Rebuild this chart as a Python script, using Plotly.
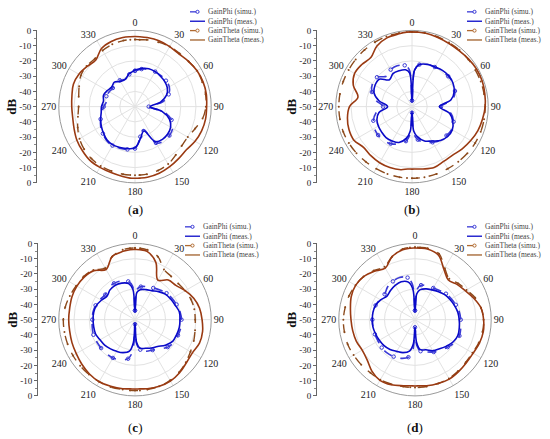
import plotly.graph_objects as go

W, H = 550, 439

# angle grid (deg), shared by every curve; 4 rows of 10 values below
ANGLES = [0, 4, 10, 20, 30, 40, 50, 60, 70, 80,
          90, 100, 110, 120, 130, 140, 150, 160, 170, 176,
          180, 184, 190, 200, 210, 220, 230, 240, 250, 260,
          270, 280, 290, 300, 310, 320, 330, 340, 350, 356]

ANGLE_TICKS = [0, 30, 60, 90, 120, 150, 180, 210, 240, 270, 300, 330]
DB_TICKS = [-50, -40, -30, -20, -10, 0, 10, 20, 30, 40, 50]
DB_LABELS = ["0", "-10", "-20", "-30", "-40", "-50", "-40", "-30", "-20", "-10", "0"]
SERIES_NAMES = ["GainPhi (simu.)", "GainPhi (meas.)", "GainTheta (simu.)", "GainTheta (meas.)"]
PANEL_LETTERS = ["a", "b", "c", "d"]

# ---- panel (a)
a_phi_simu = [-26.5, -26, -25, -24, -23.5, -23.5, -23.5, -24, -26.5, -31.5,
              -41, -31, -24.5, -21.5, -20.5, -20.5, -22.5, -34, -30, -25,
              -22.5, -22, -21.5, -21, -20.5, -21, -22.5, -24, -26, -28,
              -29.5, -31, -30, -30.5, -31, -29.5, -30, -31, -28.5, -27.5]
a_phi_meas = [-26, -25.5, -24.5, -23.5, -23.5, -24, -24.5, -25.5, -28, -33,
              -40, -32, -26, -23, -22, -22, -23.5, -33, -29, -25,
              -23, -22.5, -22, -21.5, -21, -21.5, -23, -24.5, -26, -27.5,
              -28, -29, -28, -29, -30, -29, -31, -31, -28, -27]
a_theta_simu = [-6, -6, -5.5, -5, -4.5, -4.5, -4, -3, -3, -3,
                -3.5, -5, -8, -10, -10, -8.5, -6.5, -5.5, -5, -5,
                -5, -5, -5, -5, -5, -5.5, -6.5, -8, -10, -12,
                -13, -12.5, -11, -9, -8.5, -9, -7.5, -6.5, -6, -6]
a_theta_meas = [-4, -4, -4, -4, -4.5, -5, -4, -3, -2.5, -2.5,
                -3, -3, -3.5, -4.5, -6, -5.5, -4.5, -3.5, -3, -3,
                -3, -3, -3.5, -4, -4, -4, -5, -6, -7.5, -8.5,
                -8.5, -8, -7, -7.5, -9, -10, -6, -4.5, -4, -4]

# ---- panel (b)
b_phi_simu = [-46, -26, -22, -20.5, -20, -19.5, -19, -19, -20, -23,
              -31, -24, -21, -20, -20.5, -21, -23, -25, -28, -32,
              -46, -32, -27, -24, -22, -21, -21, -21.5, -23, -26,
              -31, -26, -22, -20, -20, -24, -22, -21.5, -22.5, -26]
b_phi_meas = [-47, -26, -22, -20.5, -20, -19, -18.5, -19, -20.5, -24,
              -32, -25, -21.5, -19.5, -19.5, -21, -24, -26, -30, -34,
              -47, -34, -29, -25, -24, -23.5, -24, -24.5, -25.5, -28,
              -34, -28, -23.5, -22, -22, -27, -25, -25, -25.5, -28]
b_theta_simu = [-1, -1, -1, -1.2, -1.5, -1.5, -1.8, -2, -2, -2,
                -2, -2, -2, -2.2, -2.5, -2.8, -3, -3, -3, -3,
                -3, -3, -3, -3, -3, -2.8, -2.5, -2.2, -2, -2,
                -2, -2, -2, -2, -1.8, -1.5, -1.2, -1, -1, -1]
b_theta_meas = [-1, -1, -1, -1.5, -2, -2, -1.5, -1, -1, -1.5,
                -2, -3, -4, -5.5, -7, -8.5, -8.5, -7.5, -8.5, -9,
                -9, -9, -8, -7.5, -7.5, -8, -8.5, -6, -6, -7,
                -9, -14, -9, -6.5, -7, -8, -4, -2, -1.5, -1]

# ---- panel (c)
c_phi_simu = [-44, -30, -28, -27, -26, -24.5, -23, -22, -21, -20,
              -19.5, -19.5, -20, -20.5, -22, -25, -27, -28, -30, -34,
              -47, -30, -24, -22, -21, -21, -21, -21, -21, -21.5,
              -22, -22, -22.5, -23.5, -24.5, -23, -22.5, -23, -24.5, -28]
c_phi_meas = [-45, -32, -30, -29, -28, -26, -24, -23, -22, -20.5,
              -20.5, -20.5, -21, -21.5, -24, -27, -28.5, -30, -31, -35,
              -48, -35, -29, -27, -26, -25, -24, -23.5, -22.5, -22.5,
              -22.5, -22.5, -23, -24.5, -26, -24.5, -24, -24.5, -26, -30]
c_theta_simu = [-3, -3, -3.5, -6, -12, -13, -13, -12, -11, -10.5,
                -10.5, -10, -9, -8, -6.5, -5, -4, -3.5, -3.5, -3.5,
                -3.5, -3.5, -3.5, -3, -3, -3, -3, -3, -3, -3,
                -3, -3.5, -4.5, -5.5, -6, -7.5, -11, -6, -3.5, -3]
c_theta_meas = [-4, -4, -4.5, -10, -20, -16, -15, -12, -9, -7,
                -6, -5, -5, -6.5, -6, -4.5, -3.5, -3.5, -4, -4.5,
                -4.5, -4.5, -4, -3.5, -3, -3.5, -4.5, -5.5, -6, -6.5,
                -6.5, -6.5, -6, -6, -6.5, -8, -12, -6, -4.5, -4]

# ---- panel (d)
d_phi_simu = [-44, -30, -27, -26.5, -26, -25, -23.5, -22.5, -21.5, -20.5,
              -20, -19.5, -19, -20, -22, -24, -25.5, -27.5, -29, -33,
              -45, -30, -25, -23, -22, -21.5, -21.5, -22, -22, -22,
              -22, -22, -22.5, -23.5, -24, -22, -21, -20.5, -22, -27]
d_phi_meas = [-45, -33, -30, -28.5, -27.5, -26, -24.5, -23.5, -22.5, -21.5,
              -21, -20.5, -20, -21, -23, -25, -26.5, -29, -30, -35,
              -45, -34, -29, -27, -26, -24.5, -23.5, -23, -22.5, -22,
              -22, -22, -22.5, -24, -26, -25, -24, -23.5, -25, -30]
d_theta_simu = [-2.5, -2.5, -2.5, -4, -11, -15, -13, -11, -8, -6,
                -5, -5, -5.5, -6.5, -6.5, -6, -5.5, -5.5, -5.5, -5.5,
                -5.5, -5.5, -5.5, -5, -4.5, -4.5, -4, -3.5, -3, -3,
                -3, -3.5, -4, -5, -6, -8, -10, -6, -3, -2.5]
d_theta_meas = [-3, -3, -3, -5, -12, -16, -14, -12, -9, -6,
                -5, -4.5, -5, -6, -6, -5.5, -5, -5.5, -6, -6.5,
                -6.5, -6.5, -6, -4.5, -4, -6, -9, -10, -9, -8.5,
                -8, -7, -5.5, -5, -6, -8.5, -11, -6, -3.5, -3]

PANEL_DATA = [
    [a_phi_simu, a_phi_meas, a_theta_simu, a_theta_meas],
    [b_phi_simu, b_phi_meas, b_theta_simu, b_theta_meas],
    [c_phi_simu, c_phi_meas, c_theta_simu, c_theta_meas],
    [d_phi_simu, d_phi_meas, d_theta_simu, d_theta_meas],
]

# layout in pixels: polar centre x, centre y, dB axis x, legend x, legend top y, label y
PANEL_POS = [(135, 104, 36, 190, 7, 209), (412, 104, 316, 467, 7, 209),
             (135, 322, 37, 185, 227, 432), (415, 322, 316, 467, 227, 432)]
R = 78

BLUE_S, BLUE_M = "#3a3ad6", "#0a0ac8"
BROWN_S, BROWN_M = "#8c4a1c", "#9a3a12"
STYLES = [
    dict(line=dict(color=BLUE_S, width=1.6, dash="dash"),
         marker=dict(symbol="circle-open", size=3.5, color=BLUE_S, maxdisplayed=22),
         mode="lines+markers"),
    dict(line=dict(color=BLUE_M, width=1.6), mode="lines"),
    dict(line=dict(color=BROWN_S, width=1.4, dash="dash"),
         marker=dict(symbol="circle", size=2, color=BROWN_S), mode="lines+markers"),
    dict(line=dict(color=BROWN_M, width=1.6), mode="lines"),
]
LEGEND_COLORS = [BLUE_S, BLUE_M, "#b06a30", "#a0602a"]
SERIF = "Liberation Serif"

fig = go.Figure()
shapes, annotations = [], []
theta_closed = ANGLES + [360]

for k, (cx, cy, ax_x, lx, ly, laby) in enumerate(PANEL_POS):
    n = "" if k == 0 else str(k + 1)
    polar = "polar" + n
    for name, vals, st in zip(SERIES_NAMES, PANEL_DATA[k], STYLES):
        fig.add_trace(go.Scatterpolar(
            r=vals + vals[:1], theta=theta_closed, subplot=polar,
            name=name, showlegend=False, hoverinfo="skip",
            line_shape="spline", **st))

    fig.layout[polar] = dict(
        domain=dict(x=[(cx - R) / W, (cx + R) / W],
                    y=[1 - (cy + R) / H, 1 - (cy - R) / H]),
        bgcolor="white",
        angularaxis=dict(rotation=90, direction="clockwise",
                         tickmode="array", tickvals=ANGLE_TICKS,
                         ticktext=[str(t) for t in ANGLE_TICKS],
                         tickfont=dict(family=SERIF, size=10, color="#222"),
                         showline=True, linecolor="#9a9a9a", linewidth=1,
                         gridcolor="#e2e2e2", ticks=""),
        radialaxis=dict(range=[-50, 0], tickvals=[-40, -30, -20, -10],
                        showticklabels=False, ticks="", showline=False,
                        gridcolor="#e2e2e2"),
    )

    # linear dB scale on the left
    fig.add_trace(go.Scatter(x=[None], y=[None], xaxis="x", yaxis="y" + n,
                             showlegend=False, hoverinfo="skip"))
    fig.layout["yaxis" + n] = dict(
        domain=[1 - (cy + R) / H, 1 - (cy - R) / H],
        anchor="free", position=ax_x / W, range=[-50, 50],
        tickmode="array", tickvals=DB_TICKS, ticktext=DB_LABELS,
        ticks="outside", ticklen=3, tickcolor="#666",
        minor=dict(ticks="outside", ticklen=2, tick0=0, dtick=5, tickcolor="#888"),
        showline=True, linecolor="#666", linewidth=1,
        showgrid=False, zeroline=False,
        tickfont=dict(family=SERIF, size=9, color="#222"),
    )
    annotations.append(dict(text="<b>dB</b>", x=(ax_x - 24) / W, y=1 - cy / H,
                            xref="paper", yref="paper", xanchor="center", yanchor="middle",
                            textangle=-90, showarrow=False,
                            font=dict(family=SERIF, size=13, color="#111")))
    annotations.append(dict(text="(<b>%s</b>)" % PANEL_LETTERS[k], x=cx / W,
                            y=1 - laby / H, xref="paper", yref="paper",
                            xanchor="center", yanchor="middle", showarrow=False,
                            font=dict(family=SERIF, size=13, color="#111")))

    # legend block
    for i, (name, st, col) in enumerate(zip(SERIES_NAMES, STYLES, LEGEND_COLORS)):
        yy = 1 - (ly + i * 9.6) / H
        shapes.append(dict(type="line", xref="paper", yref="paper",
                           x0=lx / W, x1=(lx + 15) / W, y0=yy, y1=yy,
                           line=dict(color=col, width=1.3,
                                     dash=st["line"].get("dash", "solid"))))
        if "marker" in st:
            rr = 1.6
            shapes.append(dict(type="circle", xref="paper", yref="paper",
                               x0=(lx + 7.5 - rr) / W, x1=(lx + 7.5 + rr) / W,
                               y0=yy - rr / H, y1=yy + rr / H,
                               line=dict(color=col, width=1), fillcolor="white"))
        annotations.append(dict(text=name, x=(lx + 16) / W, y=yy, xref="paper",
                                yref="paper", xanchor="left", yanchor="middle",
                                showarrow=False,
                                font=dict(family=SERIF, size=7.5, color="#444")))

fig.update_layout(
    width=W, height=H, margin=dict(l=0, r=0, t=0, b=0, pad=0),
    paper_bgcolor="white", plot_bgcolor="white", showlegend=False,
    xaxis=dict(visible=False, domain=[0, 0.01]),
    shapes=shapes, annotations=annotations,
)

fig.write_html("out.html", config={"displayModeBar": False},
               post_script="document.body.style.margin='0';")
